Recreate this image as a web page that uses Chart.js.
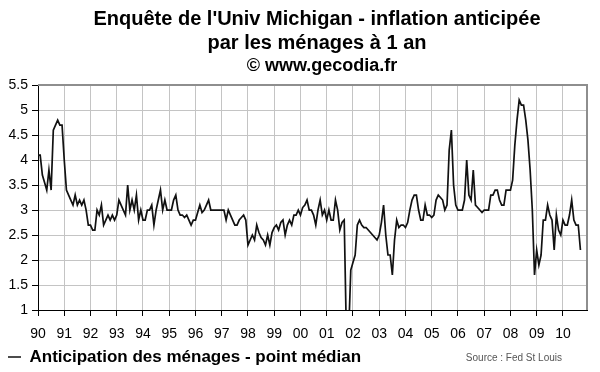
<!DOCTYPE html>
<html>
<head>
<meta charset="utf-8">
<script src="https://cdn.jsdelivr.net/npm/chart.js@4.4.1/dist/chart.umd.min.js"></script>
<style>
  html, body { margin: 0; padding: 0; background: #fff; }
  #wrap { width: 600px; height: 372px; }
</style>
</head>
<body>
<div id="wrap"><canvas id="chart" width="600" height="372"></canvas></div>
<script>
// Year tick labels (one per January, starting Jan 1990)
const yearLabels = ['90', '91', '92', '93', '94', '95', '96', '97', '98', '99', '00',
  '01', '02', '03', '04', '05', '06', '07', '08', '09', '10'];

// Monthly median 1-year expected inflation (%), Jan 1990 - Sep 2010
const inflation = [
  4.1, 4.1, 3.7, 3.55, 3.4, 3.8, 3.4, 4.6, 4.7, 4.8, 4.7, 4.7,       // 1990
  4.0, 3.4, 3.3, 3.2, 3.1, 3.3, 3.1, 3.2, 3.1, 3.2, 3.0, 2.7,        // 1991
  2.7, 2.6, 2.6, 3.0, 2.9, 3.1, 2.7, 2.8, 2.9, 2.8, 2.9, 2.8,        // 1992
  2.9, 3.2, 3.1, 3.0, 2.9, 3.5, 3.0, 3.2, 3.0, 3.3, 2.8, 3.0,        // 1993
  2.8, 2.8, 3.0, 3.0, 3.1, 2.7, 3.0, 3.2, 3.4, 3.0, 3.2, 3.0,        // 1994
  3.0, 3.0, 3.2, 3.3, 3.0, 2.9, 2.9, 2.85, 2.9, 2.8, 2.7, 2.8,       // 1995
  2.8, 2.95, 3.1, 2.95, 3.0, 3.1, 3.2, 3.0, 3.0, 3.0, 3.0, 3.0,      // 1996
  3.0, 3.0, 2.8, 3.0, 2.9, 2.8, 2.7, 2.7, 2.8, 2.85, 2.9, 2.8,       // 1997
  2.3, 2.4, 2.5, 2.4, 2.7, 2.55, 2.45, 2.4, 2.3, 2.5, 2.3, 2.55,     // 1998
  2.65, 2.7, 2.6, 2.75, 2.8, 2.5, 2.7, 2.8, 2.7, 2.9, 2.9, 3.0,      // 1999
  2.9, 3.05, 3.1, 3.2, 3.0, 3.0, 2.9, 2.7, 3.0, 3.2, 2.9, 3.0,       // 2000
  2.8, 3.0, 2.8, 2.8, 3.2, 3.0, 2.6, 2.75, 2.8, 0.5, 0.5, 1.8,       // 2001
  1.95, 2.1, 2.7, 2.8, 2.7, 2.65, 2.65, 2.6, 2.55, 2.5, 2.45, 2.4,   // 2002
  2.5, 2.75, 3.1, 2.5, 2.1, 2.1, 1.7, 2.4, 2.8, 2.65, 2.7, 2.7,      // 2003
  2.65, 2.75, 3.0, 3.2, 3.3, 3.3, 3.0, 2.8, 2.8, 3.1, 2.9, 2.9,      // 2004
  2.85, 2.9, 3.2, 3.3, 3.25, 3.2, 3.0, 3.1, 4.2, 4.6, 3.5, 3.1,      // 2005
  3.0, 3.0, 3.0, 3.2, 4.0, 3.3, 3.2, 3.8, 3.1, 3.05, 3.0, 2.95,      // 2006
  3.0, 3.0, 3.0, 3.3, 3.3, 3.4, 3.4, 3.2, 3.1, 3.1, 3.4, 3.4,        // 2007
  3.4, 3.6, 4.3, 4.8, 5.2, 5.1, 5.1, 4.8, 4.4, 3.8, 3.0, 1.7,        // 2008
  2.2, 1.9, 2.1, 2.8, 2.8, 3.1, 2.9, 2.8, 2.2, 2.9, 2.6, 2.5,        // 2009
  2.8, 2.7, 2.7, 2.9, 3.2, 2.8, 2.7, 2.7, 2.2                        // 2010
];

const yMin = 1;
const yMax = 5.5;
const yStep = 0.5;
const monthsShown = 251;

const titleLines = ["Enquête de l'Univ Michigan - inflation anticipée", 'par les ménages à 1 an'];
const subtitleText = '© www.gecodia.fr';
const seriesLabel = 'Anticipation des ménages - point médian';
const sourceText = 'Source : Fed St Louis';

const FONT = '"Liberation Sans", Arial, sans-serif';

// grey top/right frame, title offset and source note
const framePlugin = {
  id: 'frame',
  afterLayout(chart) {
    chart.boxes.forEach(b => {
      if (b === chart.titleBlock) { b.left += 22; b.right += 22; }
      else if (b.options && b.options.text === subtitleText) { b.left += 27; b.right += 27; }
    });
  },
  beforeDatasetsDraw(chart) {
    const { ctx, chartArea: a } = chart;
    ctx.save();
    ctx.strokeStyle = '#8e8e8e';
    ctx.lineWidth = 2;
    ctx.beginPath();
    ctx.moveTo(a.left, a.top);
    ctx.lineTo(a.right, a.top);
    ctx.lineTo(a.right, a.bottom);
    ctx.stroke();
    ctx.restore();
  },
  afterDraw(chart) {
    const ctx = chart.ctx;
    ctx.save();
    ctx.font = '10px ' + FONT;
    ctx.fillStyle = '#555';
    ctx.textAlign = 'right';
    ctx.textBaseline = 'middle';
    ctx.fillText(sourceText, 562, 358);
    ctx.restore();
  }
};

const ctx = document.getElementById('chart').getContext('2d');
const chart = new Chart(ctx, {
  type: 'line',
  data: {
    datasets: [{
      label: seriesLabel,
      data: inflation.map((v, i) => ({ x: i, y: v })),
      borderColor: '#111',
      backgroundColor: '#111',
      borderWidth: 1.7,
      pointRadius: 0,
      tension: 0
    }]
  },
  options: {
    responsive: false,
    animation: false,
    devicePixelRatio: 1,
    layout: { padding: { left: 3, right: 13, top: 0, bottom: -3.5 } },
    plugins: {
      title: {
        display: true,
        text: titleLines,
        color: '#000',
        font: { family: FONT, size: 20, weight: 'bold', lineHeight: 1.2 },
        padding: { top: 7, bottom: 0 }
      },
      subtitle: {
        display: true,
        text: subtitleText,
        color: '#000',
        font: { family: FONT, size: 18, weight: 'bold', lineHeight: 1.2 },
        padding: { top: 0, bottom: 8.5 }
      },
      legend: {
        position: 'bottom',
        align: 'start',
        labels: {
          usePointStyle: true,
          pointStyle: 'line',
          pointStyleWidth: 13,
          color: '#000',
          padding: 5,
          font: { family: FONT, size: 17, weight: 'bold' }
        }
      },
      tooltip: { enabled: false }
    },
    scales: {
      x: {
        type: 'linear',
        min: 0,
        max: monthsShown,
        afterBuildTicks: s => { s.ticks = yearLabels.map((_, k) => ({ value: k * 12 })); },
        afterFit: s => { s.height = 33.5; },
        ticks: {
          autoSkip: false,
          maxRotation: 0,
          padding: 10,
          color: '#000',
          font: { family: FONT, size: 14 },
          callback: v => yearLabels[v / 12]
        },
        grid: {
          color: '#c4c4c4',
          borderDash: [2, 2],
          tickColor: '#000',
          tickLength: 6,
          tickBorderDash: []
        },
        border: { display: true, color: '#000', width: 1 }
      },
      y: {
        min: yMin,
        max: yMax,
        afterFit: s => { s.width = 35; },
        ticks: {
          stepSize: yStep,
          padding: 4,
          color: '#000',
          font: { family: FONT, size: 14 },
          callback: v => String(v)
        },
        grid: {
          color: '#c4c4c4',
          borderDash: [2, 2],
          tickColor: '#000',
          tickLength: 6,
          tickBorderDash: []
        },
        border: { display: true, color: '#000', width: 1 }
      }
    }
  },
  plugins: [framePlugin]
});
</script>
</body>
</html>
